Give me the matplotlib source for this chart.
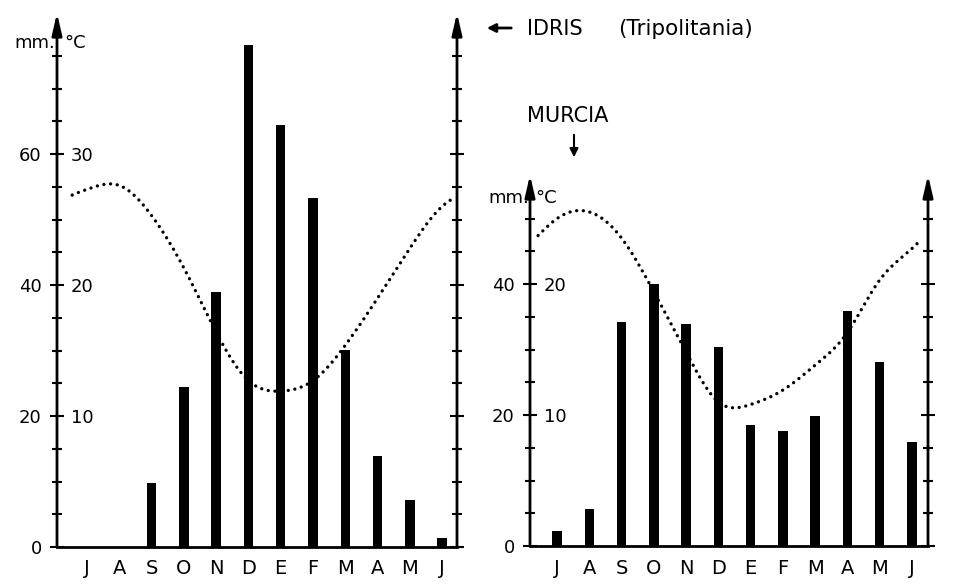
import numpy as np
import matplotlib
matplotlib.use('Agg')
import matplotlib.pyplot as plt
from matplotlib.ticker import FixedLocator

months = ['J', 'A', 'S', 'O', 'N', 'D', 'E', 'F', 'M', 'A', 'M', 'J']
idris_rain = [0, 0, 9.8, 24.4, 38.9, 76.6, 64.4, 53.3, 30.1, 13.9, 7.2, 1.4]
idris_temp = [27.3, 27.6, 25.3, 21.3, 16.4, 12.7, 11.9, 12.7, 15.4, 19.0, 22.8, 26.0]
murcia_rain = [2.3, 5.6, 34.2, 40.0, 33.9, 30.4, 18.5, 17.6, 19.8, 35.9, 28.1, 15.9]
murcia_temp = [25.0, 25.5, 23.5, 19.4, 14.8, 11.0, 10.8, 11.9, 13.8, 16.3, 20.3, 22.7]

W, H = 956, 587
plt.rcParams['font.family'] = ['DejaVu Sans']
fig = plt.figure(figsize=(W / 100, H / 100), dpi=100)


def periodic_spline(vals, xs):
    y = np.asarray(vals, float)
    n = len(y)
    A = np.zeros((n, n))
    rhs = np.zeros(n)
    for i in range(n):
        A[i, i] = 4
        A[i, (i - 1) % n] = 1
        A[i, (i + 1) % n] = 1
        rhs[i] = 6 * (y[(i + 1) % n] - 2 * y[i] + y[(i - 1) % n])
    M = np.linalg.solve(A, rhs)
    i0 = np.floor(xs).astype(int)
    t = xs - i0
    a = i0 % n
    b = (i0 + 1) % n
    return ((1 - t) * y[a] + t * y[b]
            + ((1 - t) ** 3 - (1 - t)) * M[a] / 6 + (t ** 3 - t) * M[b] / 6)


def panel(px, rain, temp, xlim, curve_rng, mm_ticks, c_ticks, minor_max):
    l, r, b, t = px
    ax = fig.add_axes([l / W, 1 - b / H, (r - l) / W, (b - t) / H])
    ymax = (b - t) / 6.55
    x = np.arange(12)
    ax.bar(x, rain, width=0.29, color='black', zorder=2)
    xs = np.linspace(curve_rng[0], curve_rng[1], 600)
    ax.plot(xs, 2 * periodic_spline(temp, xs), color='black', lw=2.4,
            linestyle=(0, (0.01, 2.0)), dash_capstyle='round', zorder=3)
    ax.set_xlim(*xlim)
    ax.set_ylim(0, ymax)
    for s in ('top', 'left', 'right'):
        ax.spines[s].set_visible(False)
    ax.spines['bottom'].set_linewidth(2)
    for xa in (0, 1):
        ax.annotate('', xy=(xa, 1), xytext=(xa, 0), xycoords='axes fraction',
                    arrowprops=dict(arrowstyle='-|>,head_length=1.3,head_width=0.3',
                                    lw=2, color='black', shrinkA=0, shrinkB=0),
                    annotation_clip=False)
    ax.set_xticks(x, months)
    ax.tick_params(axis='x', length=0, pad=9, labelsize=14)

    tw = ax.twinx()
    tw.set_ylim(0, ymax / 2)
    for s in tw.spines.values():
        s.set_visible(False)
    tw.spines['right'].set_position(('axes', 0))
    tw.set_yticks(c_ticks, [str(v) for v in c_ticks])
    tw.tick_params(axis='y', length=0, pad=10, labelsize=13)

    ax.set_yticks(mm_ticks, [str(v) for v in mm_ticks])
    ax.yaxis.set_minor_locator(FixedLocator([v for v in np.arange(5, minor_max + 1, 5) if v not in mm_ticks]))
    ax.yaxis.set_ticks_position('both')
    ax.tick_params(axis='y', which='both', direction='inout', left=True, right=True,
                   labelleft=True, labelright=False, width=1.5, labelsize=13, pad=6)
    ax.tick_params(axis='y', which='major', length=10)
    ax.tick_params(axis='y', which='minor', length=7)
    return ax


panel((57, 457, 547, 13), idris_rain, idris_temp, (-0.93, 11.46), (-0.46, 11.4),
      [0, 20, 40, 60], [10, 20, 30], 75)
panel((530, 928, 546, 175), murcia_rain, murcia_temp, (-0.84, 11.5), (-0.59, 11.18),
      [0, 20, 40], [10, 20], 50)


def fx(x):
    return x / W


def fy(y):
    return 1 - y / H


fig.text(fx(55), fy(43), 'mm.', ha='right', va='center', fontsize=13)
fig.text(fx(64), fy(43), '°C', ha='left', va='center', fontsize=13)
fig.text(fx(529), fy(198), 'mm.', ha='right', va='center', fontsize=13)
fig.text(fx(535), fy(198), '°C', ha='left', va='center', fontsize=13)

fig.text(fx(527), fy(29), 'IDRIS', ha='left', va='center', fontsize=15)
fig.text(fx(618), fy(29), '(Tripolitania)', ha='left', va='center', fontsize=15.5)
fig.add_artist(matplotlib.patches.FancyArrowPatch((fx(514), fy(28)), (fx(484), fy(28)),
               transform=fig.transFigure, arrowstyle='-|>,head_length=5,head_width=2.5',
               color='black', lw=2))
fig.text(fx(527), fy(116), 'MURCIA', ha='left', va='center', fontsize=15)
fig.add_artist(matplotlib.patches.FancyArrowPatch((fx(574), fy(132)), (fx(574), fy(160)),
               transform=fig.transFigure, arrowstyle='-|>,head_length=5,head_width=2.5',
               color='black', lw=1.5))

fig.savefig('out.png', dpi=100)
